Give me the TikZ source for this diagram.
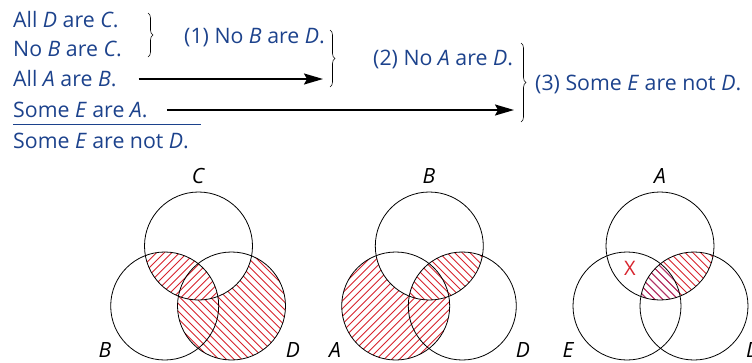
\documentclass[tikz,border=0pt]{standalone}
\usepackage{fontspec}
\setmainfont{Open Sans}
\usetikzlibrary{arrows.meta,decorations.pathreplacing}
\definecolor{stmtblue}{RGB}{28,66,140}
\definecolor{hatchred}{RGB}{215,35,45}
\definecolor{hatchpurple}{RGB}{170,50,110}

\begin{document}
\begin{tikzpicture}[x=1pt, y=-1pt,
  stmt/.style={anchor=base west, text=stmtblue, font=\fontsize{21.3}{25}\selectfont, inner sep=0pt},
  setlabel/.style={anchor=base, font=\fontsize{21}{25}\selectfont\itshape, inner sep=0pt},
  venn/.style={draw, line width=0.8pt},
  hatchline/.style={hatchred, line width=0.9pt},
  bracket/.style={decorate, decoration={brace, amplitude=5pt}, line width=0.6pt},
  arr/.style={-{Stealth[length=19pt, width=11pt, inset=3pt]}, line width=1.8pt}
]
  \useasboundingbox (0,0) rectangle (752,362);

  % premises and conclusion
  \node[stmt] (s1) at (13,27) {All \textit{D} are \textit{C}.};
  \node[stmt] (s2) at (13,56) {No \textit{B} are \textit{C}.};
  \node[stmt] (s3) at (13,86) {All \textit{A} are \textit{B}.};
  \node[stmt] (s4) at (13,117) {Some \textit{E} are \textit{A}.};
  \node[stmt] (s5) at (13,148) {Some \textit{E} are not \textit{D}.};
  \draw[stmtblue, line width=0.8pt] (13,124) -- (201,124);

  % intermediate steps
  \node[stmt] (c1) at (184,43) {(1) No \textit{B} are \textit{D}.};
  \node[stmt] (c2) at (373,65) {(2) No \textit{A} are \textit{D}.};
  \node[stmt] (c3) at (535,90) {(3) Some \textit{E} are not \textit{D}.};

  \draw[bracket] (148,13) -- (148,57);
  \draw[bracket] (330,30) -- (330,87);
  \draw[bracket] (521,43) -- (521,122);

  \coordinate (a1end) at (323,79);
  \coordinate (a2end) at (514,110);
  \draw[arr] ([xshift=22pt,yshift=7pt]s3.base east) -- (a1end);
  \draw[arr] ([xshift=19pt,yshift=7pt]s4.base east) -- (a2end);

  % diagram 1
  \coordinate (C1) at (198.5,246);
  \coordinate (B1) at (164.7,306);
  \coordinate (D1) at (231.5,306);
  \begin{scope}[even odd rule]
    \clip (D1) circle[radius=54pt];
    \clip (D1) circle[radius=54pt] (C1) circle[radius=54pt];
    \foreach \t in {-120,-112.3,...,120}
      \draw[hatchline] ([xshift=\t pt]D1) ++(-70,-70) -- ++(140,140);
  \end{scope}
  \begin{scope}
    \clip (B1) circle[radius=54pt];
    \clip (C1) circle[radius=54pt];
    \foreach \t in {-120,-112.3,...,120}
      \draw[hatchline] ([xshift=\t pt]C1) ++(-70,70) -- ++(140,-140);
  \end{scope}
  \foreach \c in {C1,B1,D1} \draw[venn] (\c) circle[radius=54pt];
  \node[setlabel] (lc1) at (198,183) {C};
  \node[setlabel] (lb1) at (105,357) {B};
  \node[setlabel] (ld1) at (293,357) {D};

  % diagram 2
  \coordinate (B2) at (429.3,246);
  \coordinate (A2) at (395.7,306);
  \coordinate (D2) at (462.3,306);
  \begin{scope}[even odd rule]
    \clip (A2) circle[radius=54pt];
    \clip (A2) circle[radius=54pt] (B2) circle[radius=54pt];
    \foreach \t in {-120,-112.3,...,120}
      \draw[hatchline] ([xshift=\t pt]A2) ++(-70,70) -- ++(140,-140);
  \end{scope}
  \begin{scope}
    \clip (B2) circle[radius=54pt];
    \clip (D2) circle[radius=54pt];
    \foreach \t in {-120,-112.3,...,120}
      \draw[hatchline] ([xshift=\t pt]B2) ++(-70,-70) -- ++(140,140);
  \end{scope}
  \foreach \c in {B2,A2,D2} \draw[venn] (\c) circle[radius=54pt];
  \node[setlabel] (lb2) at (429,183) {B};
  \node[setlabel] (la2) at (335,357) {A};
  \node[setlabel] (ld2) at (523,357) {D};

  % diagram 3
  \coordinate (A3) at (660,246);
  \coordinate (E3) at (627,306);
  \coordinate (D3) at (694,306);
  \begin{scope}
    \clip (A3) circle[radius=54pt];
    \clip (D3) circle[radius=54pt];
    \foreach \t in {-120,-112.3,...,120}
      \draw[hatchline] ([xshift=\t pt]A3) ++(-70,-70) -- ++(140,140);
    \clip (E3) circle[radius=54pt];
    \foreach \t in {-120,-112.3,...,120}
      \draw[hatchline, hatchpurple] ([xshift=\t pt]A3) ++(-70,-70) -- ++(140,140);
  \end{scope}
  \foreach \c in {A3,E3,D3} \draw[venn] (\c) circle[radius=54pt];
  \node[font=\fontsize{20}{24}\selectfont, text=hatchred, inner sep=0pt] (x3) at (630,268) {X};
  \node[setlabel] (la3) at (660,183) {A};
  \node[setlabel] (le3) at (568,357) {E};
  \node[setlabel, anchor=base west] (ld3) at (746,357) {D};
\end{tikzpicture}
\end{document}
